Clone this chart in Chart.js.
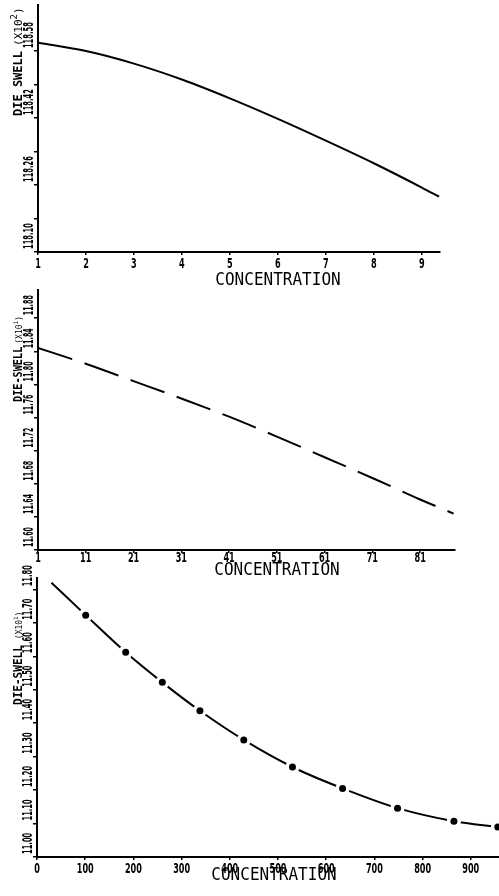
<!DOCTYPE html>
<html>
<head>
<meta charset="utf-8">
<title>Die swell vs concentration</title>
<script src="https://cdn.jsdelivr.net/npm/chart.js@4.4.1/dist/chart.umd.min.js"></script>
<style>
  html, body { margin: 0; padding: 0; background: #fff; overflow: hidden; width: 499px; height: 896px; }
  .panel { position: absolute; left: 0; }
  .panel canvas { display: block; }
</style>
</head>
<body>
<div class="panel" style="top:0px"><canvas id="chartTop" width="499" height="290"></canvas></div>
<div class="panel" style="top:285px"><canvas id="chartMid" width="499" height="295"></canvas></div>
<div class="panel" style="top:555px"><canvas id="chartBot" width="530" height="341"></canvas></div>
<script>
// 1. Data
const concTop = [1, 2, 3, 4, 5, 6, 7, 8, 9, 9.36];
const swellTop = [118.600, 118.580, 118.550, 118.512, 118.467, 118.418, 118.366, 118.312, 118.254, 118.232];
const xTicksTop = [1, 2, 3, 4, 5, 6, 7, 8, 9];
const yTicksTop = [118.10, 118.18, 118.26, 118.34, 118.42, 118.50, 118.58];
const yLabelsTop = ['118.10', '', '118.26', '', '118.42', '', '118.58'];

const concMid = [1, 11, 21, 31, 41, 51, 61, 71, 81, 88];
const swellMid = [11.844, 11.825, 11.804, 11.783, 11.761, 11.737, 11.712, 11.687, 11.661, 11.644];
const xTicksMid = [1, 11, 21, 31, 41, 51, 61, 71, 81];
const yTicksMid = [11.60, 11.64, 11.68, 11.72, 11.76, 11.80, 11.84, 11.88];
const yLabelsMid = ['11.60', '11.64', '11.68', '11.72', '11.76', '11.80', '11.84', '11.88'];

const concBot = [30, 101, 184, 260, 338, 429, 530, 634, 748, 865, 956];
const swellBot = [11.820, 11.723, 11.612, 11.522, 11.437, 11.350, 11.269, 11.205, 11.146, 11.107, 11.090];
const xTicksBot = [0, 100, 200, 300, 400, 500, 600, 700, 800, 900];
const yTicksBot = [11.00, 11.10, 11.20, 11.30, 11.40, 11.50, 11.60, 11.70, 11.80];
const yLabelsBot = ['11.00', '11.10', '11.20', '11.30', '11.40', '11.50', '11.60', '11.70', '11.80'];

const xTitle = 'CONCENTRATION';

// 2. Fonts (the plotter lettering is narrow, so text gets squeezed along its run)
const tickFamily = "'DejaVu Sans', sans-serif";
const monoFamily = "'DejaVu Sans Mono', monospace";

function points(xs, ys) {
    return xs.map((x, i) => ({ x: x, y: ys[i] }));
}

function squeezed(ctx, text, x, y, rot, sx, align) {
    ctx.save();
    ctx.translate(x, y);
    ctx.rotate(rot);
    ctx.scale(sx, 1);
    ctx.textAlign = align;
    ctx.fillText(text, 0, 0);
    ctx.restore();
}

// 3. Plugin: tick labels placed through the scales, plus both axis titles
const plotText = {
    id: 'plotText',
    afterDraw(chart, args, o) {
        const ctx = chart.ctx;
        const xs = chart.scales.x;
        const ys = chart.scales.y;
        ctx.save();
        ctx.fillStyle = '#000';
        ctx.textBaseline = 'alphabetic';

        // tick labels
        ctx.font = 'bold 14px ' + tickFamily;
        o.xTicks.forEach(v => {
            squeezed(ctx, String(v), xs.getPixelForValue(v), xs.top + o.xDrop, 0, 0.58, 'center');
        });
        o.yTicks.forEach((v, i) => {
            if (o.yLabels[i]) {
                squeezed(ctx, o.yLabels[i], ys.right - 5, ys.getPixelForValue(v) - 3, -Math.PI / 2, o.ySqueeze, 'left');
            }
        });

        // x title
        ctx.font = '18px ' + monoFamily;
        squeezed(ctx, xTitle, o.xTitleX, xs.top + o.titleDrop, 0, 0.89, 'center');

        // y title, rotated, with the power of ten
        ctx.translate(22, o.yStart);
        ctx.rotate(-Math.PI / 2);
        ctx.textAlign = 'left';
        ctx.font = 'bold 12px ' + monoFamily;
        squeezed(ctx, o.yTitle, 0, 0, 0, o.ySx, 'left');
        let w = ctx.measureText(o.yTitle).width * o.ySx + o.gap;
        ctx.font = o.unitSize + 'px ' + monoFamily;
        ctx.fillText('(X10', w, 0);
        w += ctx.measureText('(X10').width;
        ctx.font = (o.unitSize - 2) + 'px ' + monoFamily;
        ctx.fillText(o.exp, w, -o.unitSize * 0.5);
        w += ctx.measureText(o.exp).width;
        ctx.font = o.unitSize + 'px ' + monoFamily;
        ctx.fillText(')', w, 0);
        ctx.restore();
    }
};

// 4. Shared chart builder
function buildChart(id, cfg) {
    const axisLine = { color: '#000', width: 2 };
    return new Chart(document.getElementById(id), {
        type: 'line',
        data: { datasets: cfg.datasets },
        options: {
            responsive: false,
            animation: false,
            devicePixelRatio: 1,
            layout: { padding: cfg.padding },
            plugins: {
                legend: { display: false },
                tooltip: { enabled: false },
                plotText: Object.assign({ xTicks: cfg.xTicks, yTicks: cfg.yTicks, yLabels: cfg.yLabels }, cfg.text)
            },
            scales: {
                x: {
                    type: 'linear',
                    min: cfg.xMin,
                    max: cfg.xMax,
                    afterBuildTicks: s => { s.ticks = cfg.xTicks.map(v => ({ value: v })); },
                    afterFit: s => { s.height = cfg.xHeight; },
                    border: axisLine,
                    grid: { drawOnChartArea: false, color: '#000', lineWidth: 1.5, tickLength: 3 },
                    ticks: { display: false }
                },
                y: {
                    type: 'linear',
                    min: cfg.yMin,
                    max: cfg.yMax,
                    afterBuildTicks: s => { s.ticks = cfg.yTicks.map(v => ({ value: v })); },
                    afterFit: s => { s.width = 16; },
                    border: axisLine,
                    grid: { drawOnChartArea: false, color: '#000', lineWidth: 1.5, tickLength: 4 },
                    ticks: { display: false }
                }
            }
        },
        plugins: [plotText]
    });
}

// 5. Top: solid curve
buildChart('chartTop', {
    datasets: [{
        data: points(concTop, swellTop),
        borderColor: '#000', borderWidth: 2, pointRadius: 0,
        cubicInterpolationMode: 'monotone', fill: false
    }],
    padding: { top: 5, left: 22, right: 59, bottom: 0 },
    xMin: 1, xMax: 9.38, xTicks: xTicksTop, xHeight: 38,
    yMin: 118.10, yMax: 118.69, yTicks: yTicksTop, yLabels: yLabelsTop,
    text: { xDrop: 16, xTitleX: 278, titleDrop: 33, ySqueeze: 0.48, yTitle: 'DIE SWELL', ySx: 1.0, gap: 5, unitSize: 11, exp: '2', yStart: 116 }
});

// 6. Middle: long-dash curve
buildChart('chartMid', {
    datasets: [{
        data: points(concMid, swellMid),
        borderColor: '#000', borderWidth: 2, pointRadius: 0, borderDash: [36, 13],
        cubicInterpolationMode: 'monotone', fill: false
    }],
    padding: { top: 5, left: 22, right: 44, bottom: 0 },
    xMin: 1, xMax: 88.3, xTicks: xTicksMid, xHeight: 30,
    yMin: 11.60, yMax: 11.914, yTicks: yTicksMid, yLabels: yLabelsMid,
    text: { xDrop: 12, xTitleX: 277, titleDrop: 25, ySqueeze: 0.45, yTitle: 'DIE-SWELL', ySx: 0.85, gap: 3, unitSize: 8, exp: '1', yStart: 117 }
});

// 7. Bottom: curve broken by dots (white halo under each dot)
buildChart('chartBot', {
    datasets: [{
        data: points(concBot, swellBot),
        borderColor: '#000', borderWidth: 2, pointRadius: 0,
        cubicInterpolationMode: 'monotone', fill: false, order: 3
    }, {
        data: points(concBot.slice(1), swellBot.slice(1)),
        showLine: false, pointRadius: 7, pointBorderWidth: 0,
        pointBackgroundColor: '#fff', order: 2
    }, {
        data: points(concBot.slice(1), swellBot.slice(1)),
        showLine: false, pointRadius: 3.5, pointBorderWidth: 0,
        pointBackgroundColor: '#000', order: 1
    }],
    padding: { top: 23, left: 21, right: 11, bottom: 0 },
    xMin: 0, xMax: 1000, xTicks: xTicksBot, xHeight: 39,
    yMin: 11.00, yMax: 11.834, yTicks: yTicksBot, yLabels: yLabelsBot,
    text: { xDrop: 16, xTitleX: 274, titleDrop: 23, ySqueeze: 0.48, yTitle: 'DIE-SWELL', ySx: 0.92, gap: 6, unitSize: 8, exp: '1', yStart: 150 }
});
</script>
</body>
</html>
